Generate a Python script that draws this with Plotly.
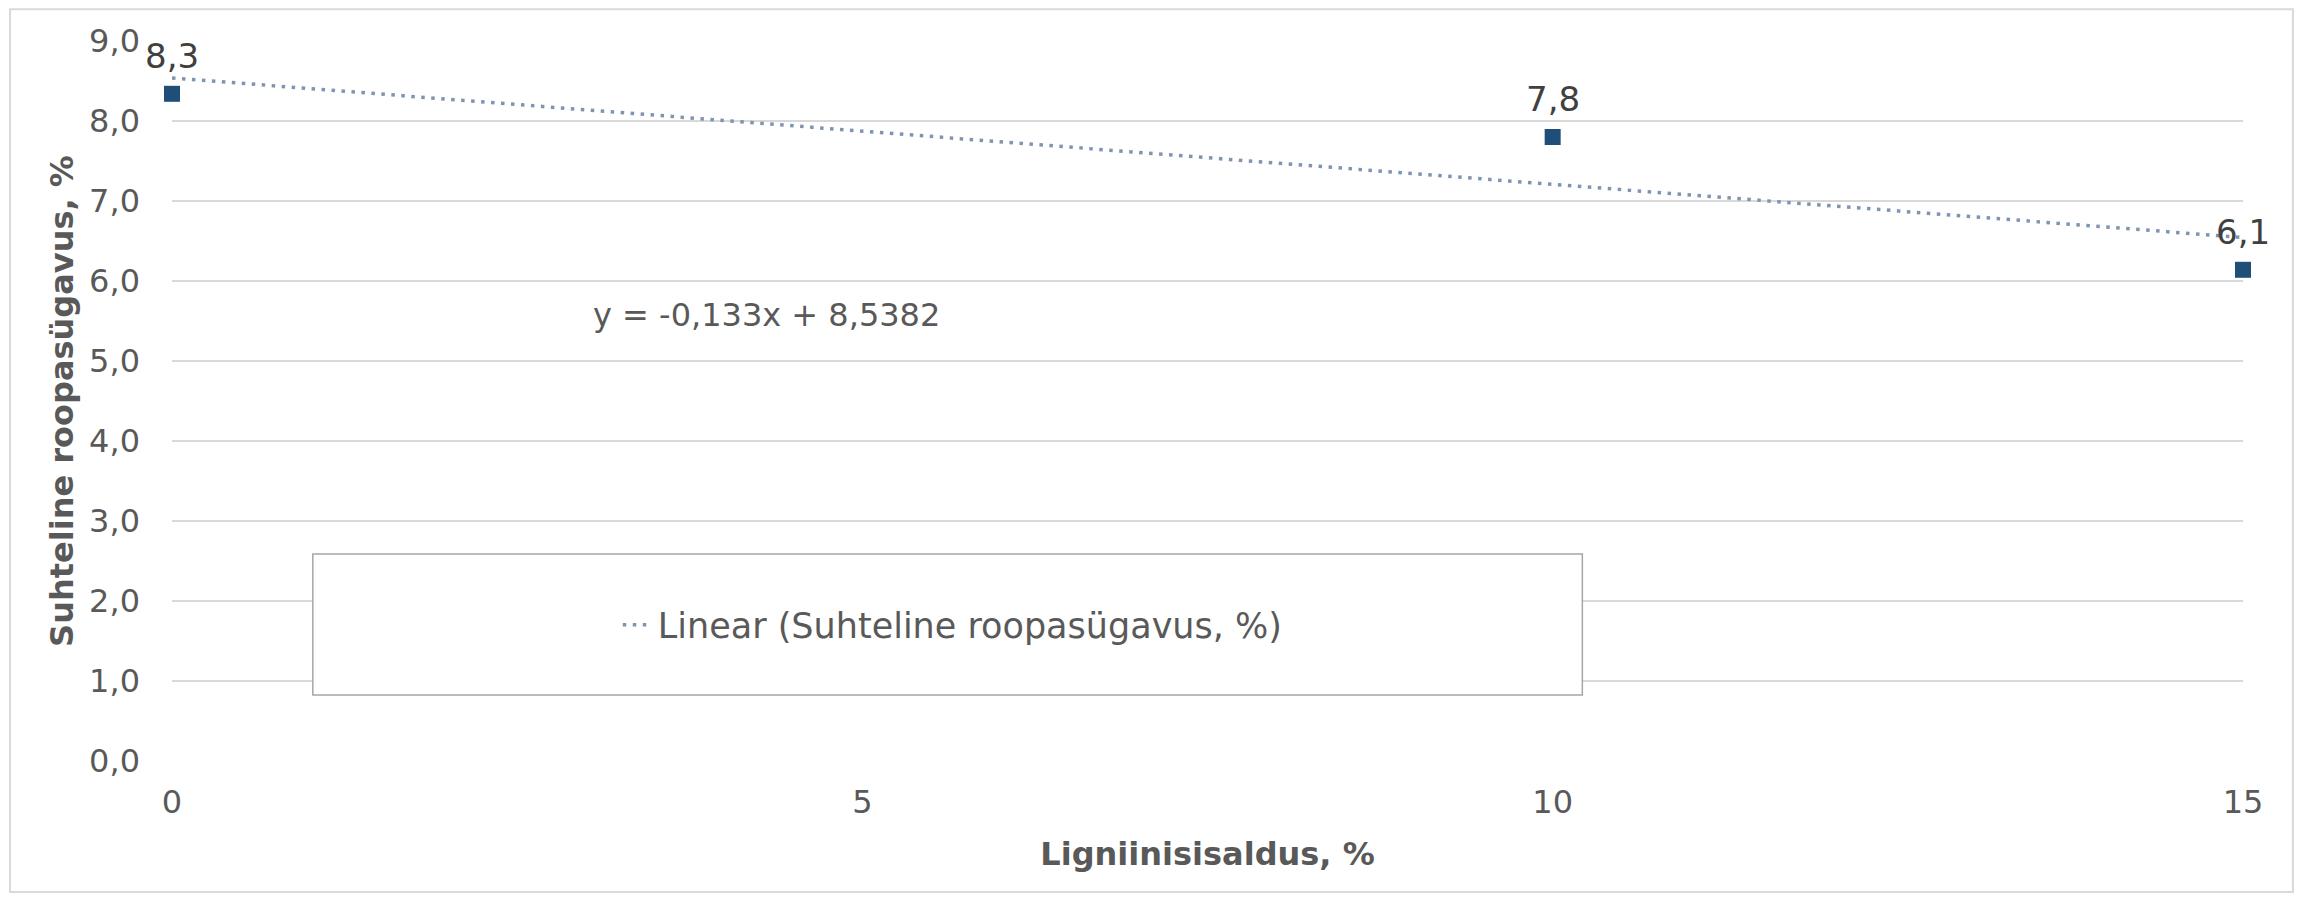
import plotly.graph_objects as go

# Data
lignin_pct = [0, 10, 15]
rut_depth_pct = [8.34, 7.8, 6.14]
trend_slope = -0.133
trend_intercept = 8.5382
trend_x = [0, 15]
x_ticks = [0, 5, 10, 15]
x_title = "Ligniinisisaldus, %"
y_title = "Suhteline roopasügavus, %"
series_name = "Suhteline roopasügavus, %"
equation_text = "y = -0,133x + 8,5382"

trend_y = [trend_slope * xv + trend_intercept for xv in trend_x]

FONT = "DejaVu Sans, Verdana, sans-serif"
GREY = "#595959"

fig = go.Figure()

fig.add_trace(go.Scatter(
    x=trend_x, y=trend_y, mode="lines",
    name="Linear (" + series_name + ")",
    line=dict(color="#7f94b1", width=3.5, dash="3.5px,6.5px"),
    showlegend=True, hoverinfo="skip",
))

fig.add_trace(go.Scatter(
    x=lignin_pct, y=rut_depth_pct, mode="markers",
    name=series_name,
    marker=dict(symbol="square", size=16, color="#1f4e79"),
    showlegend=False, cliponaxis=False,
))

for xv, yv in zip(lignin_pct, rut_depth_pct):
    fig.add_annotation(
        x=xv, y=yv, xref="x", yref="y",
        text=f"{yv:.1f}".replace(".", ","),
        showarrow=False, yshift=38, xanchor="center",
        font=dict(family=FONT, size=34, color="#404040"),
    )

fig.add_annotation(
    x=0.287, y=0.619, xref="paper", yref="paper",
    xanchor="center", yanchor="middle",
    text=equation_text, showarrow=False,
    font=dict(family=FONT, size=32, color=GREY),
)

# legend box
fig.add_shape(type="rect", xref="paper", yref="paper",
              x0=0.068, x1=0.681, y0=0.0917, y1=0.2875,
              line=dict(color="#a6a6a6", width=1.5), fillcolor="white",
              layer="above")
# chart border
fig.add_shape(type="rect", xref="paper", yref="paper",
              x0=-0.0782, x1=1.0241, y0=-0.182, y1=1.044,
              line=dict(color="#d9d9d9", width=2), fillcolor="rgba(0,0,0,0)",
              layer="below")

fig.update_layout(
    width=2297, height=890,
    margin=dict(l=164, r=62, t=33, b=137),
    paper_bgcolor="white", plot_bgcolor="white",
    separators=", ",
    font=dict(family=FONT, size=32, color=GREY),
    legend=dict(
        x=0.377, y=0.189, xanchor="center", yanchor="middle",
        bgcolor="rgba(0,0,0,0)", borderwidth=0,
        font=dict(family=FONT, size=35, color=GREY),
    ),
    xaxis=dict(
        range=[0, 15], tickvals=x_ticks, showgrid=False, zeroline=False,
        showline=False, ticks="", ticklabelstandoff=19,
        tickfont=dict(family=FONT, size=32, color=GREY),
        title=dict(text="<b>" + x_title + "</b>", standoff=22,
                   font=dict(family=FONT, size=32, color=GREY)),
        automargin=False,
    ),
    yaxis=dict(
        range=[0, 9], dtick=1, tickformat=".1f", showgrid=True,
        gridcolor="#d9d9d9", gridwidth=2, zeroline=False, showline=False,
        ticks="", ticklabelstandoff=31,
        tickfont=dict(family=FONT, size=32, color=GREY),
        title=dict(text="<b>" + y_title + "</b>", standoff=5,
                   font=dict(family=FONT, size=32, color=GREY)),
        automargin=False,
    ),
)

fig.write_html("out.html")
